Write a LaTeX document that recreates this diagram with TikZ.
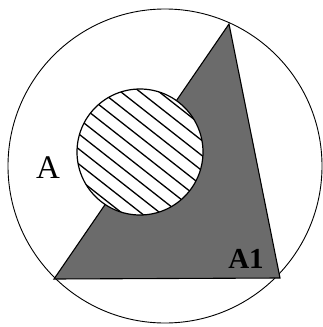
\documentclass[tikz,border=0pt]{standalone}
\usepackage{fontspec}
\setmainfont{Liberation Serif}
\usetikzlibrary{calc}
\begin{document}
\begin{tikzpicture}[x=1pt,y=-1pt,
  outline/.style={draw=black,line width=1.1pt},
  shade/.style={fill=black!58},
  hatchline/.style={line width=1.3pt,black},
  lbl/.style={inner sep=0pt,font=\fontsize{33}{33}\selectfont}]
\useasboundingbox (0,0) rectangle (322,327);
% outer circle
\draw[line width=0.9pt] (165,166) circle (157);
% triangle
\coordinate (T) at (229,24);
\coordinate (L) at (54,279);
\coordinate (R) at (280,278);
\fill[shade] (T) -- (L) -- (R) -- cycle;
\draw[outline] (T) -- (L) -- (R) -- cycle;
% small circle
\coordinate (C) at (140,152);
\fill[white] (C) circle (63);
\begin{scope}
  \clip (C) circle (63);
  \foreach \i in {-7,...,7} {
    \draw[hatchline] ($(C)+(\i*-7.3,\i*9.3)+(-70,-55)$) -- ($(C)+(\i*-7.3,\i*9.3)+(70,55)$);
  }
\end{scope}
\draw[line width=1.2pt] (C) circle (63);
\node[lbl] (a) at (48,168) {A};
\node[lbl,font=\fontsize{29}{29}\selectfont\bfseries] (a1) at (246,259) {A1};
\end{tikzpicture}
\end{document}
